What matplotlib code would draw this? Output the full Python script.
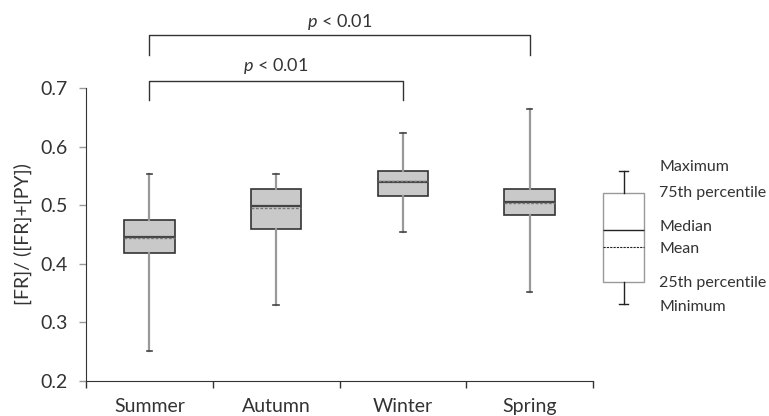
import matplotlib
matplotlib.use("Agg")
import matplotlib.pyplot as plt

plt.rcParams['font.family'] = ['Lato', 'DejaVu Sans']
plt.rcParams['mathtext.fontset'] = 'custom'
plt.rcParams['mathtext.it'] = 'Lato:italic'
plt.rcParams['mathtext.rm'] = 'Lato'

# ---- data ----
seasons = ["Summer", "Autumn", "Winter", "Spring"]
minimum = [0.251, 0.330, 0.454, 0.352]
q1 = [0.418, 0.460, 0.516, 0.484]
median = [0.445, 0.499, 0.539, 0.506]
mean = [0.444, 0.495, 0.541, 0.504]
q3 = [0.474, 0.527, 0.559, 0.527]
maximum = [0.553, 0.553, 0.624, 0.665]
y_ticks = [0.2, 0.3, 0.4, 0.5, 0.6, 0.7]
comparisons = [("Summer", "Winter", "p < 0.01"), ("Summer", "Spring", "p < 0.01")]

legend_labels = ["Maximum", "75th percentile", "Median", "Mean", "25th percentile", "Minimum"]

fig = plt.figure(figsize=(7.69, 4.16), dpi=100)
ax = fig.add_axes([86/769, 1-381/416, (593-86)/769, (381-88)/416])

stats = []
for i, s in enumerate(seasons):
    stats.append(dict(label=s, whislo=minimum[i], q1=q1[i], med=median[i],
                      mean=mean[i], q3=q3[i], whishi=maximum[i], fliers=[]))

pos = list(range(1, len(seasons) + 1))
ax.bxp(stats, positions=pos, widths=0.4, showmeans=True, meanline=True,
       patch_artist=True, showfliers=False, capwidths=0.045,
       boxprops=dict(facecolor="#c9c9c9", edgecolor="#333333", linewidth=1.2),
       whiskerprops=dict(color="#999999", linewidth=1.6),
       capprops=dict(color="#444444", linewidth=1.2),
       medianprops=dict(color="#444444", linewidth=1.6),
       meanprops=dict(color="#777777", linestyle=(0, (2, 1.2)), linewidth=1.0))

ax.set_xlim(0.5, len(seasons) + 0.5)
ax.set_ylim(0.2, 0.7)
ax.set_yticks(y_ticks)
ax.set_yticklabels([f"{t:.1f}" for t in y_ticks], fontsize=14, color="#333333")
ax.set_xticks([p + 0.5 for p in [0] + pos])
ax.set_xticklabels([])
ax.set_xticks(pos, minor=True)
ax.set_xticklabels(seasons, minor=True, fontsize=14, color="#333333")
ax.tick_params(axis='x', which='minor', length=0, pad=12)
ax.tick_params(axis='x', which='major', length=5, width=1, color="#333333", direction='out')
ax.tick_params(axis='y', length=5, width=1, color="#999999", direction='out', pad=8)
ax.spines['top'].set_visible(False)
ax.spines['right'].set_visible(False)
ax.spines['left'].set_color("#333333")
ax.spines['bottom'].set_color("#333333")
ax.set_ylabel("[FR]/ ([FR]+[PY])", fontsize=14, color="#333333", labelpad=6)

# significance brackets
bracket_levels = [(0.712, 0.680, 0.738), (0.790, 0.756, 0.813)]
for (a, b, txt), (ytop, ybot, ytxt) in zip(comparisons, bracket_levels):
    xa = seasons.index(a) + 1
    xb = seasons.index(b) + 1
    ax.plot([xa, xa, xb, xb], [ybot, ytop, ytop, ybot], color="#333333",
            linewidth=1.0, clip_on=False)
    ax.text((xa + xb) / 2, ytxt, "$p$ < 0.01", ha='center', va='center',
            fontsize=13, color="#333333", clip_on=False)

# legend schematic
lax = fig.add_axes([590/769, 1-315/416, 67/769, 155/416])
leg_vals = dict(whishi=0.929, q3=0.787, med=0.548, mean=0.439, q1=0.213, whislo=0.071)
lax.bxp([dict(label="", fliers=[], **leg_vals)], positions=[0.5], widths=0.62,
        showmeans=True, meanline=True, patch_artist=True, showfliers=False,
        capwidths=0.12,
        boxprops=dict(facecolor="white", edgecolor="#999999", linewidth=1.0),
        whiskerprops=dict(color="#222222", linewidth=1.0),
        capprops=dict(color="#222222", linewidth=1.0),
        medianprops=dict(color="#222222", linewidth=1.0),
        meanprops=dict(color="#222222", linestyle=(0, (2, 1)), linewidth=0.8))
lax.set_xlim(0, 1)
lax.set_ylim(0, 1)
lax.axis('off')
leg_y = [(315-167)/155, (315-193)/155, (315-227)/155, (315-249)/155,
         (315-283)/155, (315-307)/155]
for lab, yy in zip(legend_labels, leg_y):
    lax.text(1.03, yy, lab, ha='left', va='center', fontsize=11.5,
             color="#333333", clip_on=False)

fig.savefig("out.png", dpi=100)
